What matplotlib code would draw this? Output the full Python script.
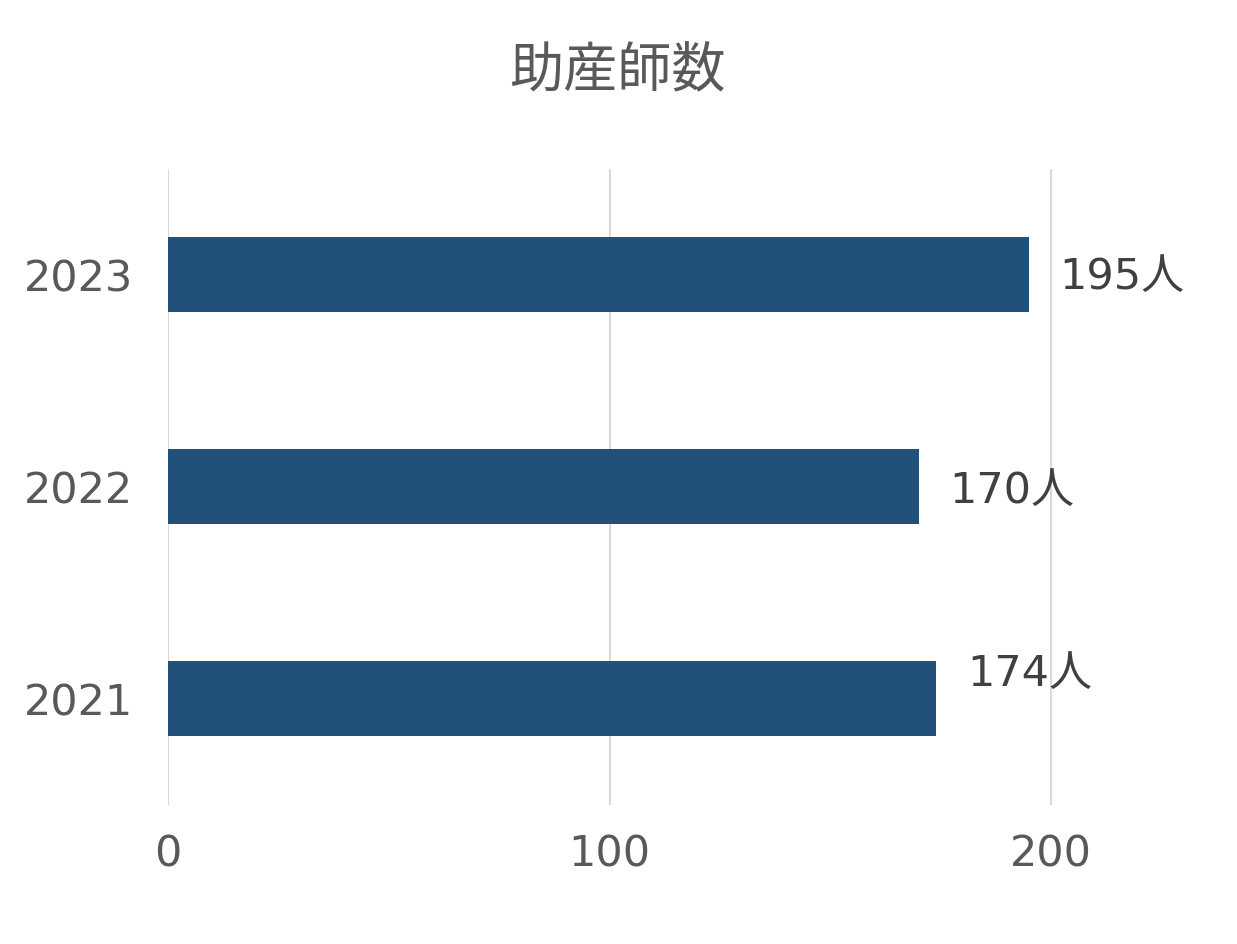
import matplotlib
matplotlib.use("Agg")
import matplotlib.pyplot as plt

years = ["2021", "2022", "2023"]
values = [174, 170, 195]
labels = ["174人", "170人", "195人"]
label_dy = [18, -3, -2]  # value label offsets (points)
xticks = [0, 100, 200]

plt.rcParams['font.family'] = ['DejaVu Sans', 'Noto Sans CJK JP']

W, H = 1237, 944
fig = plt.figure(figsize=(W/100, H/100), dpi=100)
left_px, right_px = 168, 168 + 4.415*230
top_px, bot_px = 168.5, 804.5
ax = fig.add_axes([left_px/W, 1-bot_px/H, (right_px-left_px)/W, (bot_px-top_px)/H])

ypos = list(range(len(years)))
ax.barh(ypos, values, height=0.354, color='#215078', zorder=3)
ax.set_xlim(0, 230)
ax.set_ylim(-0.5, 2.5)
ax.set_yticks(ypos)
ax.set_yticklabels(years)
ax.set_xticks(xticks)
ax.tick_params(axis='both', length=0, labelsize=31, colors='#595959')
ax.tick_params(axis='y', pad=25)
ax.tick_params(axis='x', pad=21)
for s in ax.spines.values():
    s.set_visible(False)
ax.grid(axis='x', color='#d9d9d9', linewidth=1.5, zorder=0)
ax.set_axisbelow(True)

for y, v, lab, dy in zip(ypos, values, labels, label_dy):
    ax.annotate(lab, (v, y), xytext=(22, dy), textcoords='offset points',
                ha='left', va='center', fontsize=31, color='#404040')

fig.text(617/W, 1-72/H, "助産師数", ha='center', va='center', fontsize=39,
         color='#595959', family=['Noto Sans CJK JP', 'DejaVu Sans'])
fig.savefig("out.png", dpi=100)
